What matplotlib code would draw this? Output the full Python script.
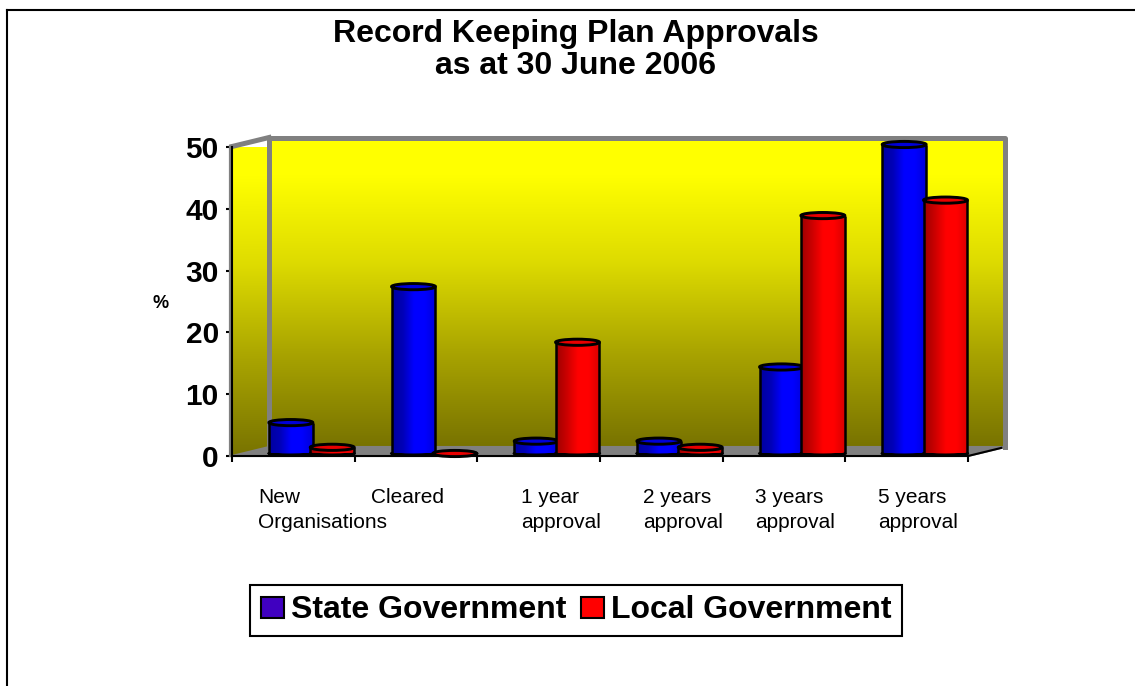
import numpy as np
import matplotlib
matplotlib.use("Agg")
import matplotlib.pyplot as plt
from matplotlib.colors import LinearSegmentedColormap
from matplotlib.patches import Ellipse, Polygon, Patch
from matplotlib.transforms import Affine2D

title = "Record Keeping Plan Approvals\nas at 30 June 2006"
categories = ["New\nOrganisations", "Cleared", "1 year\napproval",
              "2 years\napproval", "3 years\napproval", "5 years\napproval"]
state_gov = [5, 27, 2, 2, 14, 50]
local_gov = [1, 0, 18, 1, 38.5, 41]
y_ticks = [0, 10, 20, 30, 40, 50]
series_names = ["State Government", "Local Government"]
y_label = "%"

W, H = 1135, 686
plt.rcParams['font.family'] = ['Liberation Sans', 'DejaVu Sans']
fig = plt.figure(figsize=(W / 100, H / 100), dpi=100, facecolor='white')

# front plane of the 3D box in pixels
L, R, T, B = 232, 968, 147, 456
ax = fig.add_axes([L / W, 1 - B / H, (R - L) / W, (B - T) / H])
ax.patch.set_visible(False)
ax.set_xlim(0, 6)
ax.set_ylim(0, 50)

DX, DY = 37, 9          # depth of the box
back = ax.transData + Affine2D().translate(DX, DY)
mid = ax.transData + Affine2D().translate(DX / 2, 2.5)
to_px = Affine2D()      # identity: display pixels

wall_cmap = LinearSegmentedColormap.from_list(
    'wall', [(0.0, (1, 1, 0)), (0.12, (1, 1, 0)), (0.4, (.87, .86, 0)),
             (0.7, (.66, .64, 0)), (1.0, (.47, .45, 0))])
wall_grad = np.linspace(0, 1, 256).reshape(-1, 1)
GREY = '#808080'

# back wall
ax.imshow(wall_grad, cmap=wall_cmap, extent=(0, 6, 0, 50), aspect='auto',
          transform=back, clip_on=False, zorder=1)
# left wall
left_poly = Polygon([(L, H - T), (L + DX, H - T + DY), (L + DX, H - B + DY), (L, H - B)],
                    transform=to_px, facecolor='none', edgecolor='none')
im2 = ax.imshow(wall_grad, cmap=wall_cmap, extent=(0, DX / 122.67, -1.5, 50), aspect='auto',
                transform=ax.transData + Affine2D().translate(0, DY), zorder=1)
im2.set_clip_on(True)
im2.set_clip_path(left_poly)

# floor
ax.add_patch(Polygon([(L, H - B), (L + DX, H - B + DY), (R + DX, H - B + DY), (R, H - B)],
                     transform=to_px, facecolor=GREY, edgecolor=GREY, lw=1.5, zorder=2, clip_on=False))
# wall frames
ax.plot([0, 0, 6, 6], [0, 50, 50, 0], color=GREY, lw=3.6, transform=back, clip_on=False,
        solid_joinstyle='round', zorder=2)
ax.add_line(plt.Line2D([L, L + DX], [H - T + 0.5, H - T + DY + 0.5], color=GREY, lw=3.6,
                       transform=to_px, clip_on=False, zorder=2))
ax.add_line(plt.Line2D([L - 2.5, L - 2.5], [H - B, H - T + 1], color=GREY, lw=1.6,
                       transform=to_px, clip_on=False, zorder=2))
# floor front edge diagonal
ax.add_line(plt.Line2D([R, R + DX * 0.9], [H - B, H - B + DY * 0.9], color='black', lw=1.5,
                       transform=to_px, clip_on=False, zorder=3))

# cylinders
blue_cmap = LinearSegmentedColormap.from_list('b', [(0, 0, .62), (0, 0, .72), (0, 0, 1), (0, 0, 1), (0, 0, .85)])
red_cmap = LinearSegmentedColormap.from_list('r', [(.62, 0, 0), (.8, 0, 0), (1, 0, 0), (1, 0, 0), (.85, 0, 0)])
BAR_W = 0.358
ELL_H = 1.0    # top ellipse height in value units
BASE_H = 0.5   # base ellipse height in value units
EDGE = 1.8
grad = np.linspace(0, 1, 128).reshape(1, -1)


def cylinder(x, v, cmap, top_color, z):
    cx = x + BAR_W / 2
    ax.add_patch(Ellipse((cx, 0), BAR_W, BASE_H, facecolor=cmap(0.7), edgecolor='black',
                         lw=EDGE, transform=mid, clip_on=False, zorder=z))
    if v > 0:
        ax.imshow(grad, cmap=cmap, extent=(x, x + BAR_W, 0, v), aspect='auto', transform=mid,
                  clip_on=False, zorder=z + 0.1)
        for xx in (x, x + BAR_W):
            ax.plot([xx, xx], [0, v], color='black', lw=EDGE, transform=mid, clip_on=False,
                    zorder=z + 0.2, solid_capstyle='butt')
        t = np.linspace(np.pi, 2 * np.pi, 40)
        xs = cx + BAR_W / 2 * np.cos(t)
        ys = BASE_H / 2 * np.sin(t)
        ax.fill_between(xs, ys, 0, color=cmap(0.7), transform=mid, clip_on=False, zorder=z + 0.15, lw=0)
        ax.plot(xs, ys, color='black', lw=EDGE, transform=mid, clip_on=False, zorder=z + 0.2)
    ax.add_patch(Ellipse((cx, v), BAR_W, ELL_H, facecolor=top_color, edgecolor='black',
                         lw=EDGE + 0.3, transform=mid, clip_on=False, zorder=z + 0.3))


for i, (s, l) in enumerate(zip(state_gov, local_gov)):
    cylinder(i + 0.15, s, blue_cmap, '#0000d8', 5 + i)
    cylinder(i + 0.487, l, red_cmap, '#e80000', 5.5 + i)

# axes furniture
for side in ('top', 'right'):
    ax.spines[side].set_visible(False)
for side in ('left', 'bottom'):
    ax.spines[side].set_linewidth(1.5)
    ax.spines[side].set_zorder(4)
ax.set_yticks(y_ticks)
ax.set_xticks(range(7))
ax.set_xticklabels([])
ax.tick_params(axis='y', length=4.5, width=1.5, labelsize=21.5, pad=5)
ax.tick_params(axis='x', length=4.5, width=1.5)
for lab in ax.get_yticklabels():
    lab.set_fontweight('bold')

# category labels: left aligned, offset from slot centre in pixels
label_dx = [-35, -45, -18, -18, -29, -29]
for i, (c, dx) in enumerate(zip(categories, label_dx)):
    ax.annotate(c, xy=(i + 0.5, 0), xycoords='data', xytext=(dx, -32), textcoords='offset pixels',
                ha='left', va='top', fontsize=15, linespacing=1.42, annotation_clip=False)

fig.text(161 / W, 1 - 303 / H, y_label, fontsize=13, fontweight='bold', ha='center', va='center')
fig.text(575.5 / W, 1 - 50 / H, title, fontsize=23, fontweight='bold', ha='center', va='center',
         linespacing=1.06)

# legend
handles = [Patch(facecolor='#4000c0', edgecolor='black', lw=1.5, label=series_names[0]),
           Patch(facecolor='#ff0000', edgecolor='black', lw=1.5, label=series_names[1])]
leg = fig.legend(handles=handles, loc='center', bbox_to_anchor=(576 / W, 1 - 610.5 / H), ncol=2,
                 prop={'size': 23, 'weight': 'bold'}, frameon=True, fancybox=False, edgecolor='black',
                 framealpha=1, handlelength=0.72, handleheight=0.66, handletextpad=0.22,
                 columnspacing=0.47, borderpad=0.34, borderaxespad=0)
leg.get_frame().set_linewidth(1.5)

# outer border
fig.add_artist(plt.Line2D([7 / W, 7 / W], [0, 1 - 10 / H], color='black', lw=1.5))
fig.add_artist(plt.Line2D([7 / W, 1], [1 - 10 / H, 1 - 10 / H], color='black', lw=1.5))

ax.set_xlim(0, 6)
ax.set_ylim(0, 50)
fig.savefig('out.png', dpi=100)
